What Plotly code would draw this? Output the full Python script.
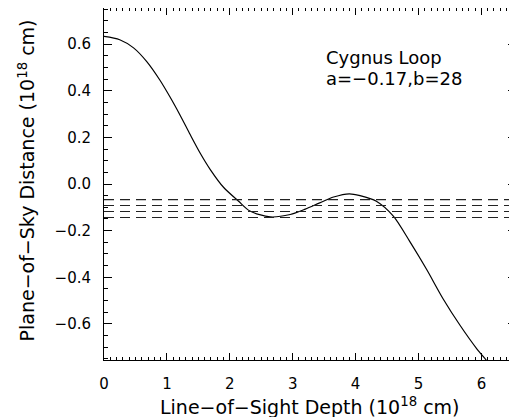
import plotly.graph_objects as go

# curve (units of 1e18 cm)
depth = [0.0, 0.25, 0.47, 0.68, 0.89, 1.05, 1.21, 1.37, 1.53, 1.69, 1.90, 2.14, 2.32, 2.64,
         2.96, 3.20, 3.43, 3.65, 3.90, 4.07, 4.33, 4.60, 4.86, 5.13, 5.39, 5.66, 5.93, 6.07, 6.15]
distance = [0.633, 0.619, 0.584, 0.525, 0.445, 0.373, 0.295, 0.212, 0.132, 0.062, -0.014, -0.074,
            -0.116, -0.141, -0.131, -0.108, -0.081, -0.056, -0.042, -0.050, -0.074, -0.138,
            -0.246, -0.367, -0.492, -0.606, -0.708, -0.753, -0.78]

# horizontal dashed levels
levels = [-0.067, -0.092, -0.118, -0.144]

x_range = [0, 6.55]
y_range = [-0.755, 0.755]

FONT = "DejaVu Sans"

fig = go.Figure()
fig.add_trace(go.Scatter(x=depth, y=distance, mode="lines",
                         line=dict(color="black", width=1.2, shape="spline", smoothing=0.8),
                         showlegend=False, hoverinfo="skip"))
for lv in levels:
    fig.add_trace(go.Scatter(x=x_range, y=[lv, lv], mode="lines",
                             line=dict(color="#222", width=1.1, dash="10px,6px"),
                             showlegend=False, hoverinfo="skip"))
# invisible trace so the tick-only overlay axes are drawn
fig.add_trace(go.Scatter(x=x_range, y=y_range, xaxis="x2", yaxis="y2", mode="markers",
                         marker=dict(opacity=0), showlegend=False, hoverinfo="skip"))

# text
fig.add_annotation(x=0.534, y=0.858, xref="paper", yref="paper", xanchor="left", yanchor="middle",
                   text="Cygnus Loop", showarrow=False, font=dict(size=18, color="black", family=FONT))
fig.add_annotation(x=0.534, y=0.799, xref="paper", yref="paper", xanchor="left", yanchor="middle",
                   text="a=−0.17,b=28", showarrow=False, font=dict(size=18, color="black", family=FONT))
fig.add_annotation(x=0.5, y=0, xref="paper", yref="paper", xanchor="center", yanchor="middle",
                   yshift=-46, text="Line−of−Sight Depth (10<sup>18</sup> cm)", showarrow=False,
                   font=dict(size=19, color="black", family=FONT))
fig.add_annotation(x=0, y=0.51, xref="paper", yref="paper", xanchor="center", yanchor="middle",
                   xshift=-77, textangle=-90, text="Plane−of−Sky Distance (10<sup>18</sup> cm)",
                   showarrow=False, font=dict(size=19, color="black", family=FONT))

tickfont = dict(size=15, color="black", family=FONT)

fig.update_layout(
    # frame + tick labels (transparent outside ticks push the labels out)
    xaxis=dict(range=x_range, dtick=1, tick0=0, showline=True, mirror=True, linecolor="black",
               linewidth=1, ticks="outside", ticklen=10, tickcolor="rgba(0,0,0,0)",
               showgrid=False, zeroline=False, automargin=False, tickfont=tickfont),
    yaxis=dict(range=y_range, dtick=0.2, tick0=0, tickformat=".1f", showline=True, mirror=True,
               linecolor="black", linewidth=1, ticks="outside", ticklen=9,
               tickcolor="rgba(0,0,0,0)", showgrid=False, zeroline=False, automargin=False,
               tickfont=tickfont),
    # tick-only overlay axes (inside ticks on all four sides)
    xaxis2=dict(range=x_range, overlaying="x", anchor="y2", side="bottom", dtick=1, tick0=0,
                ticks="inside", ticklen=7, tickcolor="black", tickwidth=1, mirror="allticks",
                showline=False, showticklabels=False, showgrid=False, zeroline=False,
                automargin=False,
                minor=dict(dtick=0.1, ticks="inside", ticklen=3, tickcolor="black", tickwidth=1)),
    yaxis2=dict(range=y_range, overlaying="y", anchor="x2", side="left", dtick=0.2, tick0=0,
                ticks="inside", ticklen=8, tickcolor="black", tickwidth=1, mirror="allticks",
                showline=False, showticklabels=False, showgrid=False, zeroline=False,
                automargin=False,
                minor=dict(dtick=0.05, ticks="inside", ticklen=4, tickcolor="black", tickwidth=1)),
    width=509, height=409, margin=dict(l=96, r=1, t=0, b=57, pad=0),
    plot_bgcolor="white", paper_bgcolor="white",
    font=dict(family=FONT, color="black"),
)

fig.write_html("out.html")
